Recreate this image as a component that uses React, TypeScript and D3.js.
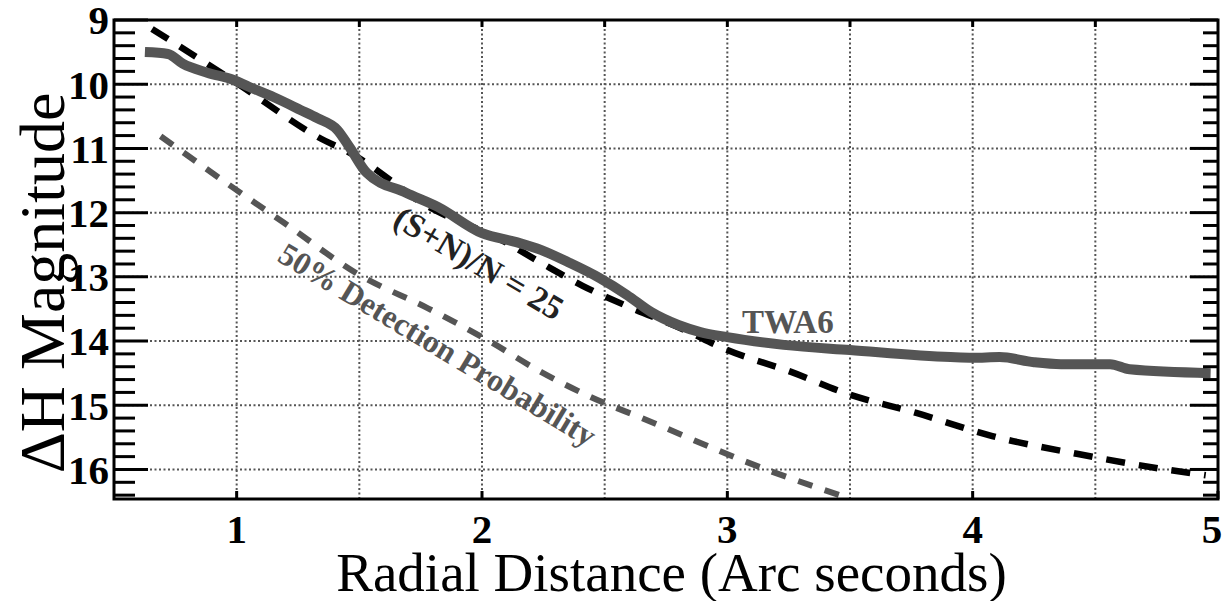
import React from "react";
import * as d3 from "d3";

const twa6X = [0.626, 0.72, 0.78, 0.88, 0.985, 1.05, 1.15, 1.26, 1.33, 1.41, 1.46, 1.53, 1.69, 1.82, 2.0, 2.14, 2.24, 2.35, 2.48, 2.59, 2.69, 2.8, 2.89, 3.0, 3.23, 3.5, 3.91, 4.0, 4.11, 4.25, 4.36, 4.56, 4.64, 4.97];
const twa6Y = [9.5, 9.53, 9.68, 9.82, 9.93, 10.04, 10.2, 10.4, 10.53, 10.71, 10.98, 11.38, 11.69, 11.91, 12.32, 12.46, 12.58, 12.77, 13.02, 13.28, 13.55, 13.75, 13.86, 13.94, 14.06, 14.14, 14.25, 14.26, 14.25, 14.33, 14.36, 14.36, 14.44, 14.5];

const snX = [0.655, 1.0, 1.33, 1.49, 1.625, 1.72, 2.1, 2.24, 2.41, 2.6, 2.81, 3.0, 3.26, 3.48, 3.77, 4.08, 4.43, 4.77, 4.95];
const snY = [9.14, 9.98, 10.82, 11.13, 11.49, 11.76, 12.47, 12.78, 13.14, 13.47, 13.8, 14.14, 14.48, 14.81, 15.12, 15.48, 15.76, 15.99, 16.09];

const detX = [0.69, 1.0, 1.19, 1.5, 1.78, 2.02, 2.24, 2.49, 2.62, 3.13, 3.48];
const detY = [10.81, 11.65, 12.15, 12.97, 13.49, 13.98, 14.48, 14.95, 15.15, 15.96, 16.43];

const xTicks = [1, 2, 3, 4, 5];
const xGrid = [1, 1.5, 2, 2.5, 3, 3.5, 4, 4.5];
const yTicks = [9, 10, 11, 12, 13, 14, 15, 16];
const yGrid = [10, 11, 12, 13, 14, 15, 16];

const xTitle = "Radial Distance (Arc seconds)";
const yTitle = "ΔH Magnitude";
const labelTWA = "TWA6";
const labelSN = "(S+N)/N = 25";
const labelDet = "50% Detection Probability";

export default function App() {
  const W = 1225, H = 601;
  const left = 114, right = 1218, top = 20, bottom = 499;
  const x = d3.scaleLinear().domain([0.5, 5]).range([left, right]);
  const y = d3.scaleLinear().domain([9, 16.46]).range([top, bottom]);
  const font = "'Liberation Serif', 'Times New Roman', serif";

  const mk = (xs: number[], ys: number[]) =>
    d3.line<number>().x((_, i) => x(xs[i])).y((_, i) => y(ys[i])).curve(d3.curveMonotoneX)(xs.map((v) => v)) || "";

  const minorY = d3.range(9, 16.46, 0.2).map((v) => Math.round(v * 10) / 10);

  return (
    <svg width={W} height={H} style={{ position: "absolute", left: 0, top: 0, background: "#fff" }} fontFamily={font}>
      <defs>
        <clipPath id="plot">
          <rect x={left} y={top} width={right - left} height={bottom - top} />
        </clipPath>
      </defs>
      {xGrid.map((g) => (
        <line key={"gx" + g} x1={x(g)} x2={x(g)} y1={top} y2={bottom} stroke="#555" strokeWidth={2} strokeDasharray="2 2.5" />
      ))}
      {yGrid.map((g) => (
        <line key={"gy" + g} x1={left} x2={right} y1={y(g)} y2={y(g)} stroke="#555" strokeWidth={2} strokeDasharray="2 2.5" />
      ))}
      <g clipPath="url(#plot)">
        <path d={mk(detX, detY)} fill="none" stroke="#555" strokeWidth={6} strokeDasharray="15 13" />
        <path d={mk(snX, snY)} fill="none" stroke="#000" strokeWidth={6.5} strokeDasharray="19 14" />
        <path d={mk(twa6X, twa6Y)} fill="none" stroke="#555" strokeWidth={10} strokeLinejoin="round" />
      </g>
      {minorY.map((v) => {
        const major = Math.abs(v - Math.round(v)) < 1e-6;
        return (
          <g key={"ty" + v}>
            <line x1={left} x2={left + (major ? 34 : 21)} y1={y(v)} y2={y(v)} stroke="#000" strokeWidth={3} />
            <line x1={right} x2={right - (major ? 28 : 15)} y1={y(v)} y2={y(v)} stroke="#000" strokeWidth={3} />
          </g>
        );
      })}
      {xTicks.map((t) => (
        <line key={"tb" + t} x1={x(t)} x2={x(t)} y1={bottom} y2={bottom - 8} stroke="#000" strokeWidth={3} />
      ))}
      {xGrid.map((t) => (
        <line key={"tt" + t} x1={x(t)} x2={x(t)} y1={top} y2={top + 7} stroke="#000" strokeWidth={3} />
      ))}
      <rect x={left} y={top} width={right - left} height={bottom - top} fill="none" stroke="#000" strokeWidth={3} />
      {yTicks.map((t) => (
        <text key={"ly" + t} x={109} y={y(t)} dy="0.35em" textAnchor="end" fontSize={41} fontWeight="bold" fill="#000">
          {t}
        </text>
      ))}
      {xTicks.map((t, i) => (
        <text key={"lx" + t} x={x(t) - (i === xTicks.length - 1 ? 6 : 0)} y={543} textAnchor="middle" fontSize={41} fontWeight="bold" fill="#000">
          {t}
        </text>
      ))}
      <text x={(338 + 1005) / 2} y={591} textAnchor="middle" fontSize={55} fill="#000">
        {xTitle}
      </text>
      <text transform={`translate(64,283) rotate(-90)`} textAnchor="middle" fontSize={64} fill="#000">
        {yTitle}
      </text>
      <text x={742} y={333} fontSize={33} fontWeight="bold" fill="#555">
        {labelTWA}
      </text>
      <text transform={`translate(473,273) rotate(30.5)`} textAnchor="middle" fontSize={34} fontWeight="bold" fill="#222">
        {labelSN}
      </text>
      <text transform={`translate(432,354) rotate(31)`} textAnchor="middle" fontSize={32} fontWeight="bold" fill="#555">
        {labelDet}
      </text>
    </svg>
  );
}
